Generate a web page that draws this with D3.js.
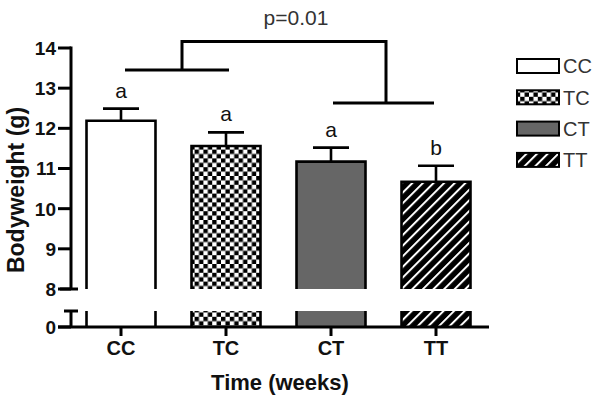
<!DOCTYPE html>
<html><head><meta charset="utf-8">
<script src="https://cdn.jsdelivr.net/npm/d3@7"></script>
<style>body{margin:0;background:#fff}svg{display:block}</style>
</head><body>
<svg id="c" width="602" height="400"></svg>
<script>
const categories = ["CC", "TC", "CT", "TT"];
const means = [12.19, 11.56, 11.17, 10.67];
const errors = [0.30, 0.34, 0.35, 0.40];
const letters = ["a", "a", "a", "b"];
const upperTicks = [8, 9, 10, 11, 12, 13, 14];
const lowerTicks = [0];
const legendLabels = ["CC", "TC", "CT", "TT"];
const pLabel = "p=0.01";

const svg = d3.select("#c");
const defs = svg.append("defs");

// patterns
const chk = defs.append("pattern").attr("id","chk").attr("patternUnits","userSpaceOnUse")
  .attr("width",8.8).attr("height",8.8).attr("x",1).attr("y",0);
chk.append("rect").attr("width",8.8).attr("height",8.8).attr("fill","#fff");
chk.append("rect").attr("width",4.4).attr("height",4.4).attr("fill","#000");
chk.append("rect").attr("x",4.4).attr("y",4.4).attr("width",4.4).attr("height",4.4).attr("fill","#000");

const hat = defs.append("pattern").attr("id","hat").attr("patternUnits","userSpaceOnUse")
  .attr("width",7.5).attr("height",7.5).attr("patternTransform","rotate(45)");
hat.append("rect").attr("width",7.5).attr("height",7.5).attr("fill","#000");
hat.append("rect").attr("x",0).attr("width",2).attr("height",7.5).attr("fill","#fff");

const fills = ["#fff", "url(#chk)", "#666", "url(#hat)"];

const yTop = d3.scaleLinear().domain([8, 14]).range([289, 48]);
const yBot = d3.scaleLinear().domain([0, 0.4]).range([327, 311]);
const x = d3.scaleBand().domain(categories).range([68.5, 68.5 + 420])
  .paddingInner(0.343).paddingOuter(0.1715);
const bw = x.bandwidth();
const axisX = 71;
const sw = 3;
const font = "Liberation Sans, Arial, sans-serif";

const data = categories.map((c, i) => ({c, m: means[i], e: errors[i], l: letters[i], f: fills[i]}));

// bars
const gb = svg.append("g");
data.forEach(d => {
  const x0 = x(d.c), x1 = x0 + bw;
  const yt = yTop(d.m), yb = yTop(8);
  gb.append("rect").attr("x", x0).attr("y", yt).attr("width", bw).attr("height", yb - yt).attr("fill", d.f);
  gb.append("path").attr("d", `M${x0},${yb}V${yt}H${x1}V${yb}`).attr("fill","none")
    .attr("stroke","#000").attr("stroke-width",2.6);
  const lt = yBot(0.4), lb = yBot(0);
  gb.append("rect").attr("x", x0).attr("y", lt).attr("width", bw).attr("height", lb - lt).attr("fill", d.f);
  gb.append("path").attr("d", `M${x0},${lt}V${lb}M${x1},${lt}V${lb}`).attr("stroke","#000").attr("stroke-width",2.6);
  const cx = x0 + bw/2, ye = yTop(d.m + d.e);
  gb.append("path").attr("d", `M${cx},${yt}V${ye}M${cx-18},${ye}H${cx+18}`).attr("stroke","#000").attr("stroke-width",2.6).attr("fill","none");
  gb.append("text").attr("x", cx).attr("y", ye - 11).attr("text-anchor","middle")
    .attr("font-family",font).attr("font-size",21).attr("fill","#111").text(d.l);
});

// axes
const ga = svg.append("g").attr("stroke","#000").attr("stroke-width",sw).attr("fill","none");
ga.append("line").attr("x1",axisX).attr("x2",axisX).attr("y1",yTop(14)-1.5).attr("y2",yTop(8));
upperTicks.forEach(t => ga.append("line").attr("x1",58).attr("x2",axisX).attr("y1",yTop(t)).attr("y2",yTop(t)));
ga.append("line").attr("x1",60).attr("x2",78).attr("y1",yTop(8)).attr("y2",yTop(8));
ga.append("line").attr("x1",axisX).attr("x2",axisX).attr("y1",yBot(0.4)).attr("y2",yBot(0));
ga.append("line").attr("x1",64).attr("x2",78).attr("y1",yBot(0.4)).attr("y2",yBot(0.4));
lowerTicks.forEach(t => ga.append("line").attr("x1",58).attr("x2",axisX).attr("y1",yBot(t)).attr("y2",yBot(t)));
ga.append("line").attr("x1",58).attr("x2",489).attr("y1",yBot(0)).attr("y2",yBot(0));
categories.forEach(c => ga.append("line").attr("x1",x(c)+bw/2).attr("x2",x(c)+bw/2).attr("y1",yBot(0)).attr("y2",yBot(0)+9));

const gt = svg.append("g").attr("font-family",font).attr("font-weight","bold").attr("fill","#111");
upperTicks.forEach(t => gt.append("text").attr("x",56).attr("y",yTop(t)).attr("dy","0.36em")
  .attr("text-anchor","end").attr("font-size",19).text(t));
lowerTicks.forEach(t => gt.append("text").attr("x",56).attr("y",yBot(t)).attr("dy","0.36em")
  .attr("text-anchor","end").attr("font-size",19).text(t));
categories.forEach(c => gt.append("text").attr("x",x(c)+bw/2).attr("y",355)
  .attr("text-anchor","middle").attr("font-size",20).text(c));
gt.append("text").attr("x",280).attr("y",390).attr("text-anchor","middle").attr("font-size",22).text("Time (weeks)");
gt.append("text").attr("transform","translate(24,190) rotate(-90)").attr("text-anchor","middle")
  .attr("font-size",23).text("Bodyweight (g)");

// significance bracket
const gs = svg.append("g").attr("stroke","#000").attr("stroke-width",sw).attr("fill","none");
const yL = yTop(13.45), yR = yTop(12.63), yT = yTop(14.16);
gs.append("line").attr("x1",125).attr("x2",229).attr("y1",yL).attr("y2",yL);
gs.append("line").attr("x1",333).attr("x2",434).attr("y1",yR).attr("y2",yR);
gs.append("path").attr("d",`M182,${yL}V${yT}H386V${yR}`);
svg.append("text").attr("x",296).attr("y",25).attr("text-anchor","middle")
  .attr("font-family",font).attr("font-size",21).attr("fill","#333").text(pLabel);

// legend
const gl = svg.append("g");
legendLabels.forEach((l, i) => {
  const yy = 59 + i * 31.3;
  gl.append("rect").attr("x",517).attr("y",yy).attr("width",42).attr("height",14)
    .attr("fill",fills[i]).attr("stroke","#000").attr("stroke-width",2);
  gl.append("text").attr("x",563).attr("y",yy+7).attr("dy","0.36em").attr("font-family",font)
    .attr("font-size",20).attr("fill","#333").text(l);
});
</script>
</body></html>
